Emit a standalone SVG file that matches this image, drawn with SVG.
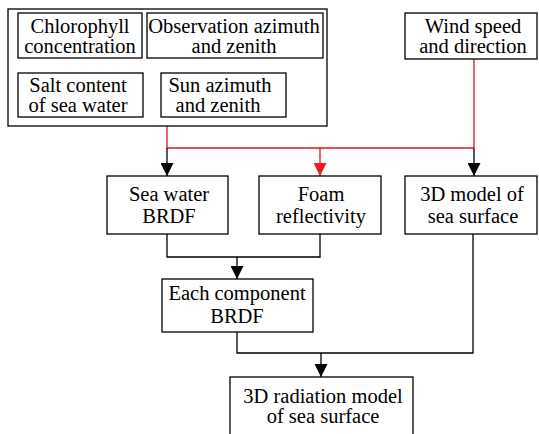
<svg xmlns="http://www.w3.org/2000/svg" width="539" height="434" viewBox="0 0 539 434">
<style>
.box{fill:#fff;stroke:#000;stroke-width:1.3}
text{font-family:"Liberation Serif","Times New Roman",serif;font-size:20.5px;fill:#000;text-anchor:middle}
.k{fill:none;stroke:#000;stroke-width:1.3}
.r{fill:none;stroke:#e0161d;stroke-width:1.3}
</style>
<defs>
<marker id="ak" markerUnits="userSpaceOnUse" markerWidth="13" markerHeight="13" refX="13" refY="6.5" orient="auto"><path d="M0,0 L13,6.5 L0,13 z" fill="#000"/></marker>
<marker id="ar" markerUnits="userSpaceOnUse" markerWidth="13" markerHeight="13" refX="13" refY="6.5" orient="auto"><path d="M0,0 L13,6.5 L0,13 z" fill="#ee1c1c"/></marker>
</defs>
<g id="connectors">
<path class="r" d="M167,126 V148 H474 M474,59 V148"/>
<path class="k" d="M167,148 V176" marker-end="url(#ak)"/>
<path class="r" d="M320,148 V176" stroke="#ee1c1c" marker-end="url(#ar)"/>
<path class="k" d="M474,148 V176" marker-end="url(#ak)"/>
<path class="k" d="M167,234 V257 H320 V234"/>
<path class="k" d="M237,257 V279" marker-end="url(#ak)"/>
<path class="k" d="M237,332 V353 H473 V234"/>
<path class="k" d="M321,353 V377" marker-end="url(#ak)"/>
</g>
<g id="inputs">
<rect class="box" x="8" y="9" width="319" height="117"/>
</g>
<g id="chlorophyll">
<rect class="box" x="18" y="13" width="124" height="45"/>
<text x="80" y="33">Chlorophyll</text>
<text x="80" y="53">concentration</text>
</g>
<g id="observation">
<rect class="box" x="147" y="13" width="176" height="45"/>
<text x="234" y="33">Observation azimuth</text>
<text x="234" y="53">and zenith</text>
</g>
<g id="salt">
<rect class="box" x="18" y="73" width="125" height="44"/>
<text x="78" y="92">Salt content</text>
<text x="78" y="112">of sea water</text>
</g>
<g id="sun">
<rect class="box" x="161" y="73" width="125" height="44"/>
<text x="220" y="92">Sun azimuth</text>
<text x="218" y="112">and zenith</text>
</g>
<g id="wind">
<rect class="box" x="405" y="13" width="132" height="46"/>
<text x="473" y="33">Wind speed</text>
<text x="473" y="53">and direction</text>
</g>
<g id="seawater">
<rect class="box" x="107" y="176" width="121" height="58"/>
<text x="169" y="201">Sea water</text>
<text x="169" y="223">BRDF</text>
</g>
<g id="foam">
<rect class="box" x="259" y="176" width="122" height="58"/>
<text x="321" y="201">Foam</text>
<text x="321" y="223">reflectivity</text>
</g>
<g id="model3d">
<rect class="box" x="405" y="176" width="132" height="58"/>
<text x="472" y="201">3D model of</text>
<text x="473" y="223">sea surface</text>
</g>
<g id="component">
<rect class="box" x="162" y="279" width="151" height="53"/>
<text x="237" y="300">Each component</text>
<text x="237" y="323">BRDF</text>
</g>
<g id="radiation">
<rect class="box" x="230" y="377" width="183" height="64"/>
<text x="323" y="403">3D radiation model</text>
<text x="323" y="423">of sea surface</text>
</g>
</svg>
